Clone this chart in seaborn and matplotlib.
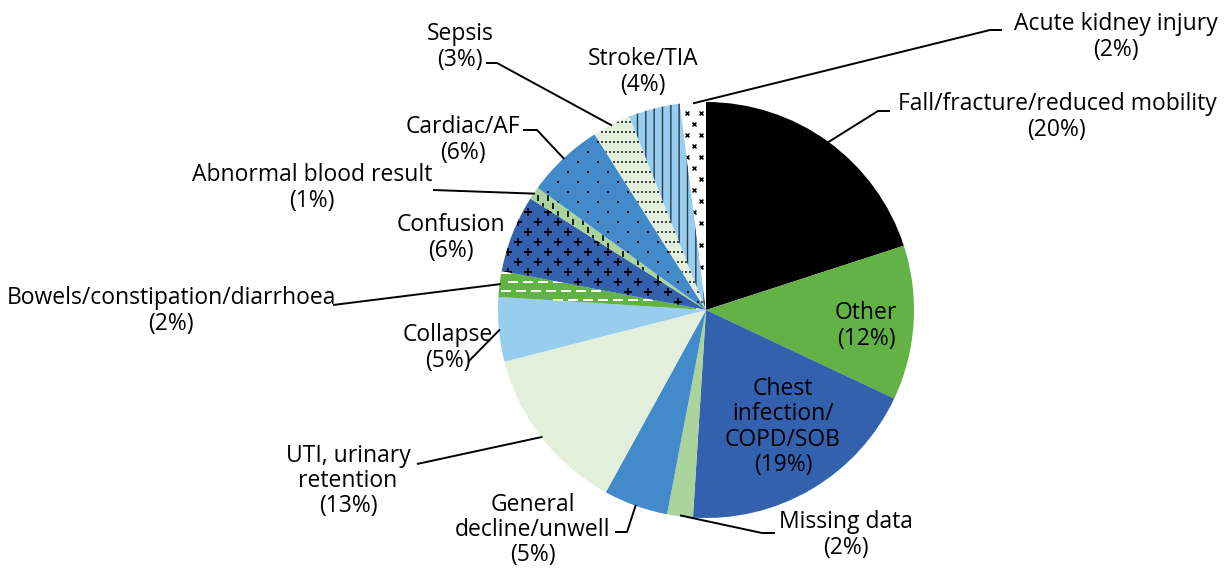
import numpy as np
import matplotlib
matplotlib.use("Agg")
import matplotlib.pyplot as plt
import seaborn as sns


categories = [
    "Fall/fracture/reduced mobility",
    "Other",
    "Chest infection/COPD/SOB",
    "Missing data",
    "General decline/unwell",
    "UTI, urinary retention",
    "Collapse",
    "Bowels/constipation/diarrhoea",
    "Confusion",
    "Abnormal blood result",
    "Cardiac/AF",
    "Sepsis",
    "Stroke/TIA",
    "Acute kidney injury",
]
percents = [20, 12, 19, 2, 5, 13, 5, 2, 6, 1, 6, 3, 4, 2]

label_texts = [
    "Fall/fracture/reduced mobility",
    "Other",
    "Chest\ninfection/\nCOPD/SOB",
    "Missing data",
    "General\ndecline/unwell",
    "UTI, urinary\nretention",
    "Collapse",
    "Bowels/constipation/diarrhoea",
    "Confusion",
    "Abnormal blood result",
    "Cardiac/AF",
    "Sepsis",
    "Stroke/TIA",
    "Acute kidney injury",
]

slice_colors = [
    "#000000", "#62B246", "#3461AE", "#AAD49B", "#428AC9", "#E2EFDA", "#97CDEF",
    "#62B246", "#3461AE", "#AAD49B", "#428AC9", "#E2EFDA", "#97CDEF", "#FFFFFF",
]

# label centre (pixels) and elbow points of the leader line (label side first)
label_pos = [
    (1057, 117), (866, 326), (783, 427), (846, 535), (533, 530), (348, 481),
    (448, 348), (171, 311), (451, 238), (312, 188), (463, 140), (460, 47),
    (643, 72), (1116, 37),
]
leaders = [
    [(890, 111), (878, 111)],
    None,
    None,
    [(775, 533), (762, 533)],
    [(615, 532), (627, 532)],
    [(417, 464)],
    [(468, 362)],
    [(333, 305)],
    None,
    [(433, 190)],
    [(523, 130), (537, 130)],
    [(486, 63), (497, 63)],
    None,
    [(1002, 30), (990, 30)],
]

sns.set_theme(style="white")
plt.rcParams["font.family"] = ["Open Sans", "DejaVu Sans"]

fig = plt.figure(figsize=(12.27, 5.68), dpi=100)
ax = fig.add_axes([0, 0, 1, 1])

CX, CY, R = 706, 310, 208

wedges, _ = ax.pie(
    percents,
    colors=sns.color_palette(slice_colors),
    startangle=270,
    counterclock=True,
    center=(CX, CY),
    radius=R,
    wedgeprops=dict(linewidth=0),
)
ax.set_xlim(0, 1227)
ax.set_ylim(568, 0)
ax.set_aspect("equal")
ax.axis("off")


def fill_pattern(w, dx, dy, marker, size, color, lw=1.0, stagger=True):
    cx, cy = w.center
    r = w.r
    xs, ys = [], []
    for i, y in enumerate(np.arange(cy - r, cy + r, dy)):
        off = dx / 2 if (stagger and i % 2) else 0
        for x in np.arange(cx - r + off, cx + r, dx):
            xs.append(x)
            ys.append(y)
    xs = np.array(xs)
    ys = np.array(ys)
    ang = np.degrees(np.arctan2(ys - cy, xs - cx))
    rel = (ang - w.theta1) % 360
    dist = np.hypot(xs - cx, ys - cy)
    keep = (rel <= (w.theta2 - w.theta1)) & (dist < r)
    sc = ax.scatter(xs[keep], ys[keep], marker=marker, s=size, color=color,
                    linewidths=lw, zorder=3)
    sc.set_clip_path(w)


# patterns
fill_pattern(wedges[7], 15, 9, "_", 45, "white", 1.4)
fill_pattern(wedges[8], 20, 10, "+", 30, "black", 1.2)
fill_pattern(wedges[9], 10, 8, "|", 14, "black", 1.2)
fill_pattern(wedges[10], 20, 10, "s", 3.5, "black", 0)
fill_pattern(wedges[11], 4, 10, "s", 1.6, "#444444", 0, stagger=False)
fill_pattern(wedges[13], 14, 11, "x", 8, "black", 1.1)
wedges[12].set_hatch("||")
wedges[12].set_edgecolor("#2b3a4a")
wedges[12].set_linewidth(0)

# labels and leader lines
for i, (w, txt, pct) in enumerate(zip(wedges, label_texts, percents)):
    lx, ly = label_pos[i]
    ax.text(lx, ly, f"{txt}\n({pct}%)", ha="center", va="center",
            fontsize=16.5, linespacing=1.08, color="black", zorder=5)
    if leaders[i] is not None:
        mid = np.radians((w.theta1 + w.theta2) / 2)
        sx = CX + (R - 1) * np.cos(mid)
        sy = CY + (R - 1) * np.sin(mid)
        pts = leaders[i] + [(sx, sy)]
        ax.plot([p[0] for p in pts], [p[1] for p in pts], color="black",
                lw=1.4, zorder=4, solid_capstyle="butt")

fig.savefig("out.png", dpi=100)
